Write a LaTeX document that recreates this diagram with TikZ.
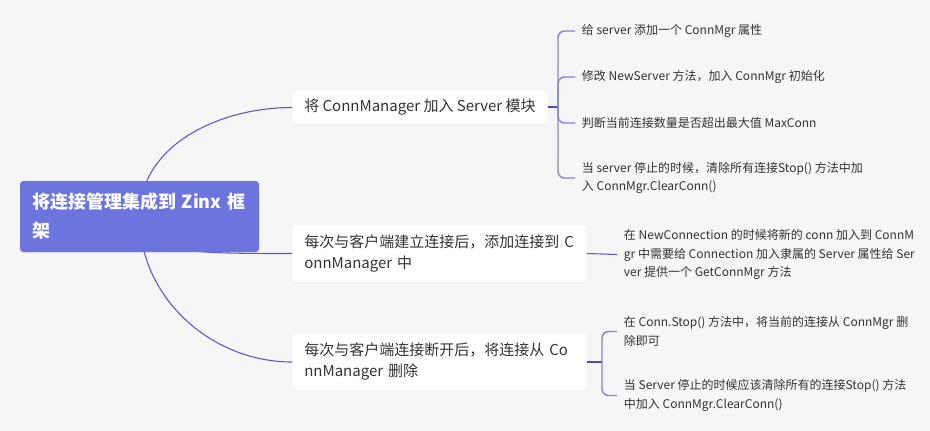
\documentclass[tikz,border=0pt]{standalone}
\usepackage{fontspec}
\setmainfont{Noto Sans CJK SC}
\usetikzlibrary{shadows}

\definecolor{rootblue}{RGB}{108,116,222}
\definecolor{mainline}{RGB}{92,86,202}
\definecolor{stubline}{RGB}{80,74,192}
\definecolor{leafline}{RGB}{136,131,218}
\definecolor{paper}{RGB}{246,246,246}
\definecolor{ink}{RGB}{51,51,51}

\pgfdeclarelayer{bg}
\pgfsetlayers{bg,main}

\begin{document}
\begin{tikzpicture}[x=0.75pt,y=-0.75pt,
  rootbox/.style={fill=rootblue,text=white,rounded corners=2.5pt,text width=161.25pt,
    inner xsep=9pt,minimum height=53.25pt,align=left,
    drop shadow={opacity=0.08,shadow xshift=0pt,shadow yshift=-1pt},
    font=\fontsize{13.5}{21.75}\selectfont\bfseries},
  topic/.style={fill=white,text=ink,rounded corners=3pt,inner xsep=9pt,align=left,anchor=west,
    drop shadow={opacity=0.05,shadow xshift=0pt,shadow yshift=-1pt},
    font=\fontsize{11.25}{15.75}\selectfont},
  leaf/.style={text=ink,inner xsep=5pt,inner ysep=0pt,align=left,anchor=west,
    font=\fontsize{9}{13.9}\selectfont},
  branch/.style={draw=mainline,line width=0.8pt},
  stub/.style={draw=stubline,line width=1.5pt},
  fork/.style={draw=leafline,line width=1.1pt,rounded corners=5pt}]

\useasboundingbox (0,0) rectangle (930,431);
\begin{pgfonlayer}{bg}
\fill[paper] (0,0) rectangle (930,431);
\end{pgfonlayer}

\node[rootbox] (root) at (139.5,216.5) {将连接管理集成到 Zinx 框\\架};

\node[topic,minimum height=24.75pt] (srv) at (292,107.5) {将 ConnManager 加入 Server 模块};
\node[topic,text width=202.5pt,minimum height=42.75pt] (add) at (292,253.5) {每次与客户端建立连接后，添加连接到 C\\onnManager 中};
\node[topic,text width=202.5pt,minimum height=42.75pt] (del) at (292,362) {每次与客户端连接断开后，将连接从 Co\\nnManager 删除};

\node[leaf] (srvA) at (575,31) {给 server 添加一个 ConnMgr 属性};
\node[leaf] (srvB) at (575,77) {修改 NewServer 方法，加入 ConnMgr 初始化};
\node[leaf] (srvC) at (575,123) {判断当前连接数量是否超出最大值 MaxConn};
\node[leaf] (srvD) at (575,178) {当 server 停止的时候，清除所有连接Stop() 方法中加\\入 ConnMgr.ClearConn()};

\node[leaf] (addA) at (617,254.5) {在 NewConnection 的时候将新的 conn 加入到 ConnM\\gr 中需要给 Connection 加入隶属的 Server 属性给 Ser\\ver 提供一个 GetConnMgr 方法};

\node[leaf] (delA) at (617,331.5) {在 Conn.Stop() 方法中，将当前的连接从 ConnMgr 删\\除即可};
\node[leaf] (delB) at (617,395.5) {当 Server 停止的时候应该清除所有的连接Stop() 方法\\中加入 ConnMgr.ClearConn()};

\coordinate (srvfork) at (558,107.5);
\coordinate (delfork) at (602,362);

\begin{pgfonlayer}{bg}
\draw[branch] (root.center) .. controls +(0,-72) and +(-72,0) .. (srv.west);
\draw[branch] (root.center) .. controls +(0,37) and +(-100,0) .. (add.west);
\draw[branch] (root.center) .. controls +(0,81) and +(-81,0) .. (del.west);

\draw[stub] (srv.east) -- (srvfork);
\foreach \leaf in {srvA,srvB,srvC,srvD}
  \draw[fork] (srvfork) |- (\leaf.west);

\draw[branch] (add.east) -- (addA.west);

\draw[stub] (del.east) -- (delfork);
\foreach \leaf in {delA,delB}
  \draw[fork] (delfork) |- (\leaf.west);
\end{pgfonlayer}
\end{tikzpicture}
\end{document}
